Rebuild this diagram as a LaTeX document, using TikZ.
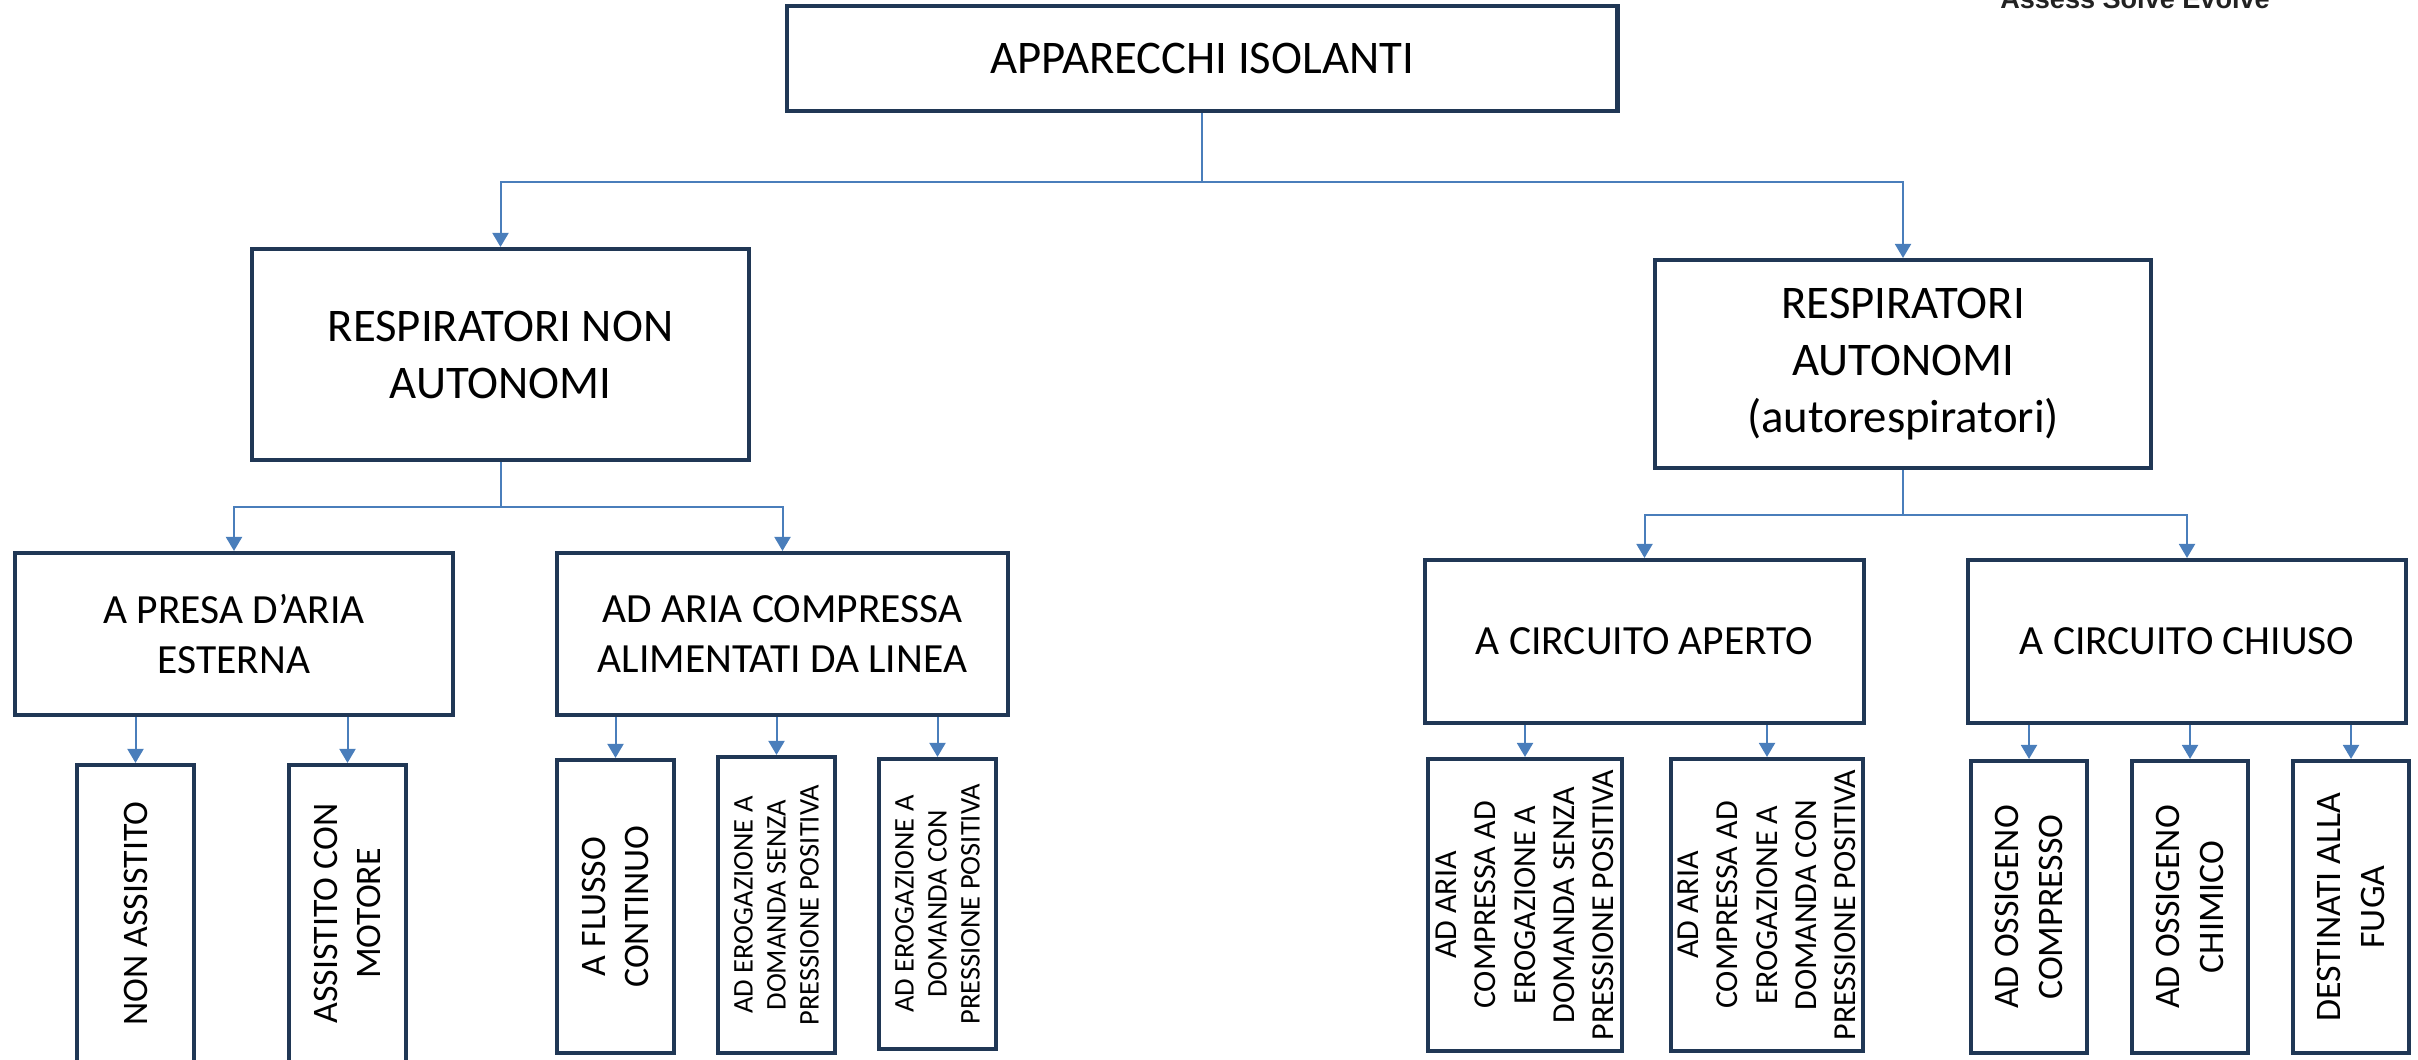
\documentclass[tikz,border=0pt]{standalone}
\usepackage{fontspec}
\setmainfont{Carlito}
\newfontfamily\logofont{Liberation Sans}
\usetikzlibrary{positioning, arrows.meta}
\definecolor{boxnavy}{RGB}{32,55,85}
\definecolor{linkblue}{RGB}{74,126,187}

\begin{document}
\begin{tikzpicture}[x=0.01cm, y=-0.01cm,
    box/.style={draw=boxnavy, line width=0.045cm, fill=white, align=center, inner sep=0pt},
    tallbox/.style={box, rotate=90},
    link/.style={draw=linkblue, line width=0.02cm, -{Triangle[width=0.16cm, length=0.14cm]}},
    headfont/.style={font=\fontsize{13.3pt}{16.2pt}\selectfont},
    subfont/.style={font=\fontsize{11.8pt}{14.2pt}\selectfont},
    leaffont/.style={font=\fontsize{10.2pt}{12.5pt}\selectfont},
    smallleaf/.style={font=\fontsize{8.1pt}{9.4pt}\selectfont},
    midleaf/.style={font=\fontsize{9.1pt}{11.2pt}\selectfont}]
    \useasboundingbox (0,0) rectangle (2418,1059);

    % logo text, cut off at the top
    \node[anchor=base, font=\logofont\bfseries\fontsize{7.7pt}{9pt}\selectfont, text={rgb,255:red,34;green,34;blue,34}] (logo) at (2135, 8) {Assess Solve Evolve};

    % levels 0 and 1
    \node[box, headfont, minimum width=8.3cm, minimum height=1.045cm] (app) at (1202, 58.5) {APPARECCHI ISOLANTI};
    \node[box, headfont, minimum width=4.965cm, minimum height=2.105cm] (rna) at (500.5, 354.5) {RESPIRATORI NON\\AUTONOMI};
    \node[box, headfont, minimum width=4.955cm, minimum height=2.075cm] (ra) at (1903, 364) {RESPIRATORI\\AUTONOMI\\(autorespiratori)};

    % level 2
    \node[box, subfont, minimum width=4.375cm, minimum height=1.615cm] (presa) at (234, 634) {A PRESA D'ARIA\\ESTERNA};
    \node[box, subfont, minimum width=4.505cm, minimum height=1.615cm] (linea) at (782.5, 634) {AD ARIA COMPRESSA\\ALIMENTATI DA LINEA};
    \node[box, subfont, minimum width=4.385cm, minimum height=1.625cm] (aperto) at (1644.5, 641.5) {A CIRCUITO APERTO};
    \node[box, subfont, minimum width=4.375cm, minimum height=1.625cm] (chiuso) at (2187, 641.5) {A CIRCUITO CHIUSO};

    % level 3 (rotated)
    \node[tallbox, leaffont, minimum width=2.965cm, minimum height=1.165cm] (nonass) at (135.5, 913.5) {NON ASSISTITO};
    \node[tallbox, leaffont, minimum width=2.965cm, minimum height=1.165cm] (motore) at (347.5, 913.5) {ASSISTITO CON\\MOTORE};
    \node[tallbox, leaffont, minimum width=2.925cm, minimum height=1.165cm] (flusso) at (615.5, 906.5) {A FLUSSO\\CONTINUO};
    \node[tallbox, smallleaf, minimum width=2.955cm, minimum height=1.165cm] (senza) at (776.5, 905) {AD EROGAZIONE A\\DOMANDA SENZA\\PRESSIONE POSITIVA};
    \node[tallbox, smallleaf, minimum width=2.895cm, minimum height=1.165cm] (con) at (937.5, 904) {AD EROGAZIONE A\\DOMANDA CON\\PRESSIONE POSITIVA};
    \node[tallbox, midleaf, minimum width=2.915cm, minimum height=1.935cm] (apsenza) at (1525, 905) {AD ARIA\\COMPRESSA AD\\EROGAZIONE A\\DOMANDA SENZA\\PRESSIONE POSITIVA};
    \node[tallbox, midleaf, minimum width=2.915cm, minimum height=1.915cm] (apcon) at (1767, 905) {AD ARIA\\COMPRESSA AD\\EROGAZIONE A\\DOMANDA CON\\PRESSIONE POSITIVA};
    \node[tallbox, leaffont, minimum width=2.915cm, minimum height=1.155cm] (ossic) at (2029, 907) {AD OSSIGENO\\COMPRESSO};
    \node[tallbox, leaffont, minimum width=2.915cm, minimum height=1.155cm] (chimico) at (2190, 907) {AD OSSIGENO\\CHIMICO};
    \node[tallbox, leaffont, minimum width=2.915cm, minimum height=1.155cm] (fuga) at (2351, 907) {DESTINATI ALLA\\FUGA};

    % connectors
    \draw[link] (app.south) -- ++(0,69) -| (rna.north);
    \draw[link] (app.south) -- ++(0,69) -| (ra.north);
    \draw[link] (rna.south) -- ++(0,45) -| (presa.north);
    \draw[link] (rna.south) -- ++(0,45) -| (linea.north);
    \draw[link] (ra.south) -- ++(0,45) -| (aperto.north);
    \draw[link] (ra.south) -- ++(0,45) -| (chiuso.north);

    \draw[link] (presa.south -| nonass.east) -- (nonass.east);
    \draw[link] (presa.south -| motore.east) -- (motore.east);
    \draw[link] (linea.south -| flusso.east) -- (flusso.east);
    \draw[link] (linea.south -| senza.east) -- (senza.east);
    \draw[link] (linea.south -| con.east) -- (con.east);
    \draw[link] (aperto.south -| apsenza.east) -- (apsenza.east);
    \draw[link] (aperto.south -| apcon.east) -- (apcon.east);
    \draw[link] (chiuso.south -| ossic.east) -- (ossic.east);
    \draw[link] (chiuso.south -| chimico.east) -- (chimico.east);
    \draw[link] (chiuso.south -| fuga.east) -- (fuga.east);
\end{tikzpicture}
\end{document}
